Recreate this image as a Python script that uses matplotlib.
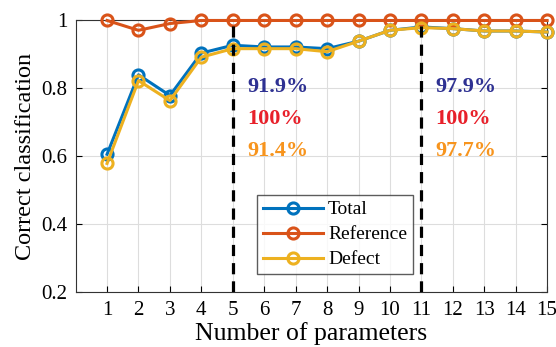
import matplotlib
matplotlib.use("Agg")
import matplotlib.pyplot as plt

n_params = list(range(1, 16))
total = [0.606, 0.840, 0.779, 0.904, 0.927, 0.922, 0.922, 0.917, 0.939, 0.971, 0.981, 0.976, 0.969, 0.969, 0.966]
reference = [1.0, 0.971, 0.991, 1.0, 1.0, 1.0, 1.0, 1.0, 1.0, 1.0, 1.0, 1.0, 1.0, 1.0, 1.0]
defect = [0.579, 0.823, 0.764, 0.892, 0.917, 0.917, 0.917, 0.908, 0.939, 0.971, 0.979, 0.976, 0.969, 0.969, 0.966]

cut_points = [5, 11]
notes = [["91.9%", "100%", "91.4%"], ["97.9%", "100%", "97.7%"]]
note_colors = ["#2E3192", "#E8202A", "#F7941D"]

plt.rcParams['font.family'] = ['Liberation Serif', 'DejaVu Serif']

fig = plt.figure(figsize=(5.56, 3.47), dpi=100)
ax = fig.add_axes([0.136, 0.158, 0.848, 0.783])

series = [("Total", total, "#0072BD"),
          ("Reference", reference, "#D95319"),
          ("Defect", defect, "#EDB120")]
for name, vals, col in series:
    ax.plot(n_params, vals, color=col, lw=2.2, marker='o', ms=8,
            mfc='none', mew=2.2, label=name, clip_on=False, zorder=3)

for xc in cut_points:
    ax.axvline(xc, color='black', lw=2.3, ls=(0, (3.5, 2.2)), zorder=4)

for xc, txt in zip(cut_points, notes):
    for i, (t, c) in enumerate(zip(txt, note_colors)):
        ax.text(xc + 0.45, 0.803 - i * 0.094, t, color=c, fontsize=16,
                fontweight='bold', va='center', ha='left')

ax.set_xlim(0, 15)
ax.set_ylim(0.2, 1.0)
ax.set_xticks(n_params)
ax.set_yticks([0.2, 0.4, 0.6, 0.8, 1.0])
ax.set_yticklabels(["0.2", "0.4", "0.6", "0.8", "1"])
ax.grid(True, color='#dddddd', lw=0.8)
ax.tick_params(direction='in', labelsize=15, top=False, right=True,
               length=4, pad=6)
ax.set_xlabel("Number of parameters", fontsize=18.5, labelpad=2)
ax.set_ylabel("Correct classification", fontsize=17.5, labelpad=4)
for s in ax.spines.values():
    s.set_color('#333333')

leg = ax.legend(loc='lower left', bbox_to_anchor=(0.385, 0.066), fontsize=14,
                frameon=True, fancybox=False, edgecolor='#333333',
                handlelength=3.1, handletextpad=0.25, borderpad=0.3,
                labelspacing=0.38, borderaxespad=0)
leg.get_frame().set_linewidth(1.0)

fig.savefig("out.png", dpi=100)
